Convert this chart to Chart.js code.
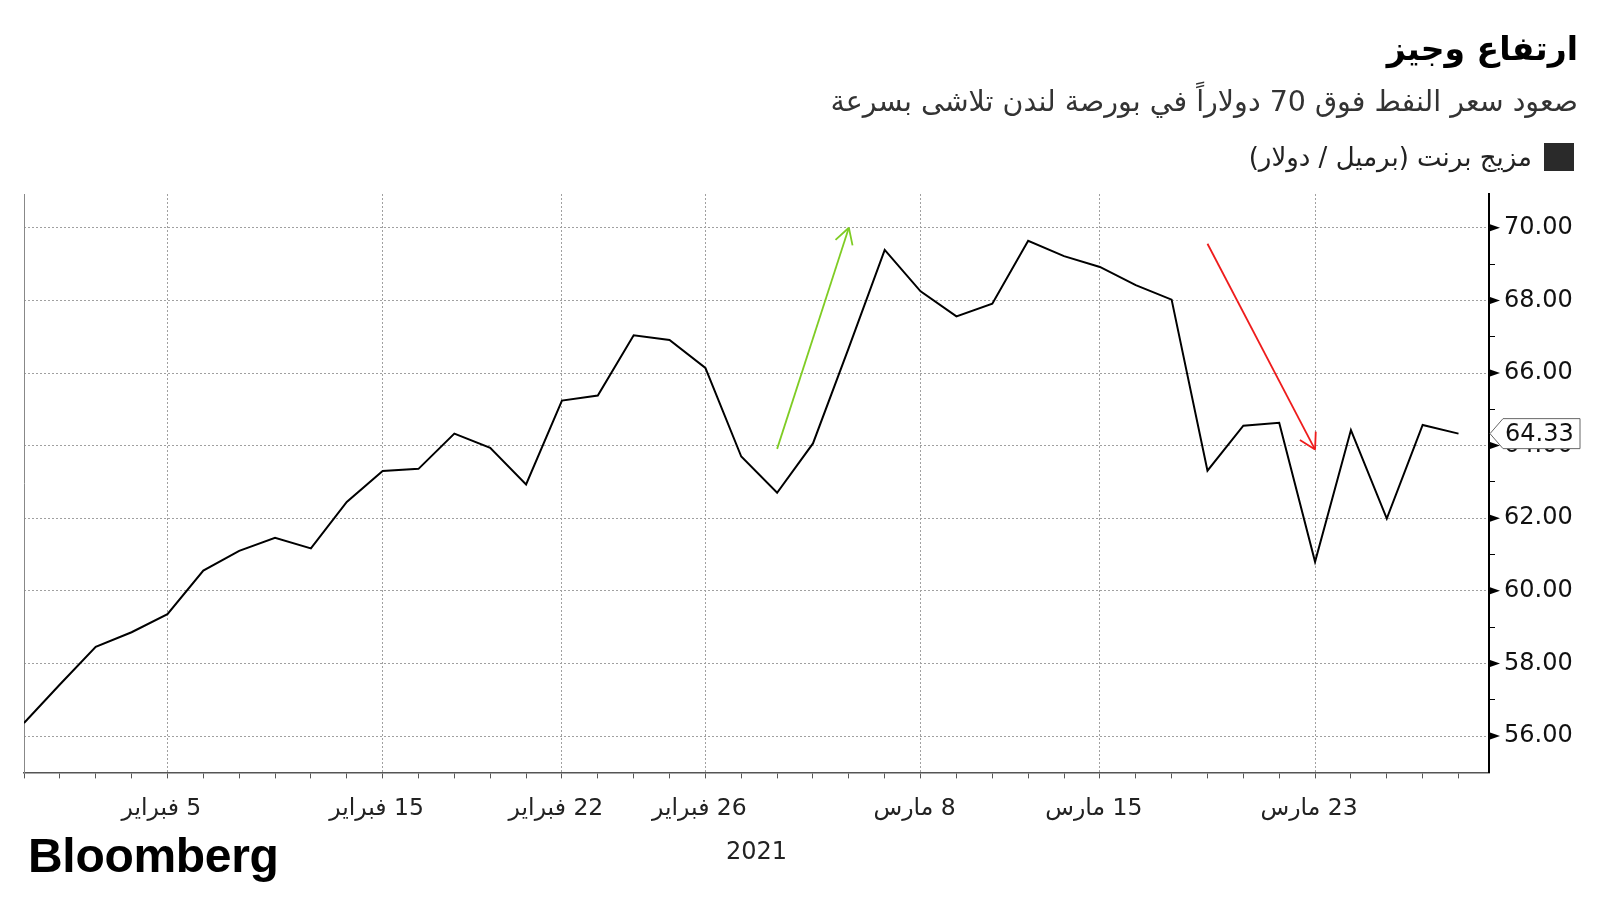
<!DOCTYPE html>
<html>
<head>
<meta charset="utf-8">
<script src="https://cdn.jsdelivr.net/npm/chart.js@4.4.1/dist/chart.umd.min.js"></script>
<style>
  body { margin: 0; width: 1600px; height: 900px; background: #fff; position: relative; overflow: hidden; font-family: "DejaVu Sans", sans-serif; }
  #chart { position: absolute; left: 0; top: 0; }
  .head { position: absolute; right: 22px; direction: rtl; white-space: nowrap; }
  #title { top: 24px; font-size: 33px; font-weight: bold; color: #000; line-height: 50px; }
  #subtitle { top: 83px; font-size: 28.5px; color: #333; line-height: 38px; }
  #legend { top: 140px; right: 26px; font-size: 26px; color: #222; line-height: 34px; display: flex; align-items: center; }
  #legend .box { width: 30px; height: 28px; background: #2a2a2a; margin-left: 12px; }
  #logo { position: absolute; left: 28px; top: 832px; font-family: "Liberation Sans", Arial, sans-serif; font-weight: bold; font-size: 48px; line-height: 48px; letter-spacing: -0.3px; color: #000; }
</style>
</head>
<body>
<canvas id="chart" width="1600" height="900" dir="rtl"></canvas>
<div id="title" class="head">ارتفاع وجيز</div>
<div id="subtitle" class="head">صعود سعر النفط فوق 70 دولاراً في بورصة لندن تلاشى بسرعة</div>
<div id="legend" class="head"><span class="box"></span><span>مزيج برنت (برميل / دولار)</span></div>
<div id="logo">Bloomberg</div>
<script>
// Brent daily close, trading days 1 Feb 2021 .. 29 Mar 2021
let values = [56.36, 57.42, 58.46, 58.86, 59.36, 60.56, 61.10, 61.46, 61.17, 62.45,
              63.30, 63.36, 64.33, 63.94, 62.93, 65.24, 65.38, 67.04, 66.91, 66.14,
              63.70, 62.70, 64.06, 66.70, 69.39, 68.25, 67.56, 67.91, 69.64, 69.22,
              68.92, 68.42, 68.02, 63.31, 64.55, 64.63, 60.80, 64.43, 61.99, 64.57,
              64.33];

let tickDays = [4, 10, 15, 19, 25, 30, 36];
let tickLabels = ['5 فبراير', '15 فبراير', '22 فبراير', '26 فبراير', '8 مارس', '15 مارس', '23 مارس'];

let greenArrowX = [21, 23];
let greenArrowY = [63.91, 70.0];
let redArrowX = [33, 36];
let redArrowY = [69.56, 63.89];

function toPoints(xs, ys) {
    return xs.map((x, i) => ({x: x, y: ys[i]}));
}

// open arrow heads on the annotation lines
let arrowHeads = {
    id: 'arrowHeads',
    afterDatasetsDraw(chart) {
        let ctx = chart.ctx;
        chart.data.datasets.forEach((ds, i) => {
            if (!ds.arrow) return;
            let pts = chart.getDatasetMeta(i).data;
            let a = pts[pts.length - 2], b = pts[pts.length - 1];
            let ang = Math.atan2(b.y - a.y, b.x - a.x);
            ctx.save();
            ctx.strokeStyle = ds.borderColor;
            ctx.lineWidth = ds.borderWidth;
            ctx.beginPath();
            [-1, 1].forEach(s => {
                ctx.moveTo(b.x, b.y);
                ctx.lineTo(b.x - 18 * Math.cos(ang + s * 0.52), b.y - 18 * Math.sin(ang + s * 0.52));
            });
            ctx.stroke();
            ctx.restore();
        });
    }
};

// triangles on major y ticks + last value box
let axisMarks = {
    id: 'axisMarks',
    afterDraw(chart) {
        let ctx = chart.ctx;
        let y = chart.scales.y;
        ctx.save();
        ctx.fillStyle = '#000';
        y.ticks.forEach(t => {
            if (t.value % 2 !== 0) return;
            let py = y.getPixelForValue(t.value);
            ctx.beginPath();
            ctx.moveTo(y.left + 1, py - 3.5);
            ctx.lineTo(y.left + 11, py);
            ctx.lineTo(y.left + 1, py + 3.5);
            ctx.closePath();
            ctx.fill();
        });

        let last = values[values.length - 1];
        let py = y.getPixelForValue(last);
        let x0 = y.left + 1;
        ctx.beginPath();
        ctx.moveTo(x0, py);
        ctx.lineTo(x0 + 13, py - 15);
        ctx.lineTo(1580, py - 15);
        ctx.lineTo(1580, py + 15);
        ctx.lineTo(x0 + 13, py + 15);
        ctx.closePath();
        ctx.fillStyle = '#fff';
        ctx.fill();
        ctx.strokeStyle = '#666';
        ctx.lineWidth = 1;
        ctx.stroke();
        ctx.fillStyle = '#111';
        ctx.font = '24px "DejaVu Sans"';
        ctx.textAlign = 'left';
        ctx.textBaseline = 'middle';
        ctx.fillText(last.toFixed(2), x0 + 15, py + 1);
        ctx.restore();
    }
};

let chart = new Chart(document.getElementById('chart'), {
    type: 'line',
    data: {
        datasets: [{
            label: 'مزيج برنت',
            data: toPoints(values.map((v, i) => i), values),
            borderColor: '#000',
            borderWidth: 2,
            pointRadius: 0,
            tension: 0
        }, {
            label: 'up',
            data: toPoints(greenArrowX, greenArrowY),
            borderColor: '#7fcc24',
            borderWidth: 1.8,
            pointRadius: 0,
            arrow: true
        }, {
            label: 'down',
            data: toPoints(redArrowX, redArrowY),
            borderColor: '#ee1c1c',
            borderWidth: 1.8,
            pointRadius: 0,
            arrow: true
        }]
    },
    options: {
        responsive: false,
        animation: false,
        devicePixelRatio: 1,
        layout: {padding: {left: 24, right: 0, top: 194, bottom: 0}},
        plugins: {legend: {display: false}, tooltip: {enabled: false}},
        scales: {
            x: {
                type: 'linear',
                min: 0,
                max: 40.85,
                afterBuildTicks: s => { s.ticks = values.map((v, i) => ({value: i})); },
                afterFit: s => { s.height = 127.6; },
                ticks: {
                    autoSkip: false,
                    maxRotation: 0,
                    padding: 16,
                    labelOffset: -6,
                    color: '#222',
                    font: {family: 'DejaVu Sans', size: 23.5},
                    callback: v => {
                        let k = tickDays.indexOf(v);
                        return k < 0 ? '' : tickLabels[k];
                    }
                },
                grid: {
                    color: c => (c.tick && tickDays.includes(c.tick.value)) ? '#a0a0a0' : 'rgba(0,0,0,0)',
                    tickColor: '#555',
                    tickLength: 6,
                    lineWidth: 1
                },
                border: {color: '#555', width: 1.5, dash: [2, 2]},
                title: {
                    display: true,
                    text: '2021',
                    color: '#222',
                    font: {family: 'DejaVu Sans', size: 24},
                    padding: {top: 0, bottom: 33}
                }
            },
            y: {
                position: 'right',
                min: 55,
                max: 70.93,
                afterBuildTicks: s => {
                    let t = [];
                    for (let v = 56; v <= 70; v++) t.push({value: v});
                    s.ticks = t;
                },
                afterFit: s => { s.width = 111; },
                ticks: {
                    padding: 9,
                    color: '#111',
                    font: {family: 'DejaVu Sans', size: 24},
                    callback: v => v % 2 === 0 ? v.toFixed(2) : ''
                },
                grid: {
                    color: c => (c.tick && c.tick.value % 2 === 0) ? '#a0a0a0' : 'rgba(0,0,0,0)',
                    tickColor: '#000',
                    tickLength: 6
                },
                border: {color: '#000', width: 2, dash: [2, 2]}
            },
            yLeft: {
                position: 'left',
                ticks: {display: false},
                grid: {display: false, drawTicks: false},
                border: {color: '#888', width: 1},
                afterFit: s => { s.width = 0; }
            }
        }
    },
    plugins: [arrowHeads, axisMarks]
});
</script>
</body>
</html>
